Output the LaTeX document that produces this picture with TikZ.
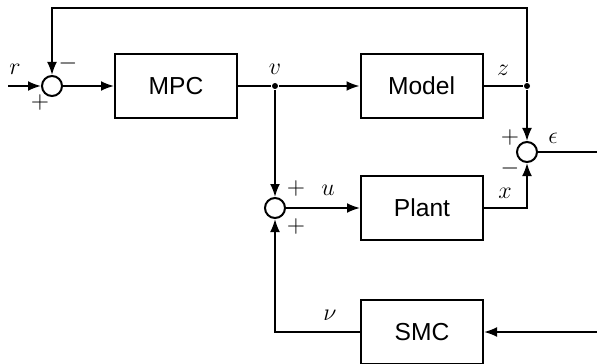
\documentclass[tikz,border=0pt]{standalone}
\usepackage{amsmath}
\usepackage{fontspec}
\setsansfont{Liberation Sans}
\usepackage{tikz}
\usetikzlibrary{arrows.meta, positioning}
\tikzstyle{block} = [draw, line width=1pt, minimum width=61pt, minimum height=32pt, inner sep=0pt, font=\fontsize{12.3}{14}\sffamily]
\tikzstyle{sumnode} = [draw, circle, line width=1pt, minimum size=10pt, inner sep=0pt]
\tikzstyle{dot} = [circle, fill, minimum size=3pt, inner sep=0pt]
\tikzstyle{sig} = [font=\fontsize{11.5}{13}\selectfont]
\tikzstyle{arrow} = [line width=1pt, -{Latex[length=6.5pt,width=5pt]}]

\begin{document}
\begin{tikzpicture}[x=0.5pt, y=-0.5pt, line width=1pt]
\useasboundingbox (0,0) rectangle (597,363);

\node[sumnode] (sum1) at (52,86) {};
\node[block] (mpc) at (176,86) {MPC};
\node[dot] (vdot) at (275,86) {};
\node[block] (model) at (421.5,86) {Model};
\node[dot] (zdot) at (527,86) {};
\node[sumnode] (sumeps) at (527,152) {};
\node[sumnode] (sum2) at (275,208) {};
\node[block] (plant) at (422,208) {Plant};
\node[block] (smc) at (422,332) {SMC};

\coordinate (rin) at (8,86);
\coordinate (topR) at (527,8);
\coordinate (topL) at (52,8);
\coordinate (epsout) at (597,152);
\coordinate (smcin) at (597,332);

\draw[arrow] (rin) -- (sum1);
\draw[arrow] (sum1) -- (mpc);
\draw (mpc) -- (vdot);
\draw[arrow] (vdot) -- (model);
\draw (model) -- (zdot);
\draw[arrow] (zdot) -- (topR) -- (topL) -- (sum1);
\draw[arrow] (zdot) -- (sumeps);
\draw (sumeps) -- (epsout);
\draw[arrow] (vdot) -- (sum2);
\draw[arrow] (sum2) -- (plant);
\draw[arrow] (plant.east) -| (sumeps);
\draw[arrow] (smcin) -- (smc);
\draw[arrow] (smc.west) -| (sum2);

\node[sig] (rlab) at (15,69) {$r$};
\node[sig] (p1) at (40,103) {$+$};
\node[sig] (m1) at (68,64) {$-$};
\node[sig] (vlab) at (275,69) {$v$};
\node[sig] (zlab) at (503,70) {$z$};
\node[sig] (p2) at (510,137) {$+$};
\node[sig] (elab) at (553,138) {$\epsilon$};
\node[sig] (m2) at (510,168) {$-$};
\node[sig] (p3) at (296,188) {$+$};
\node[sig] (p4) at (296,226) {$+$};
\node[sig] (ulab) at (328,190) {$u$};
\node[sig] (xlab) at (505,193) {$x$};
\node[sig] (nulab) at (330,315) {$\nu$};
\end{tikzpicture}
\end{document}
